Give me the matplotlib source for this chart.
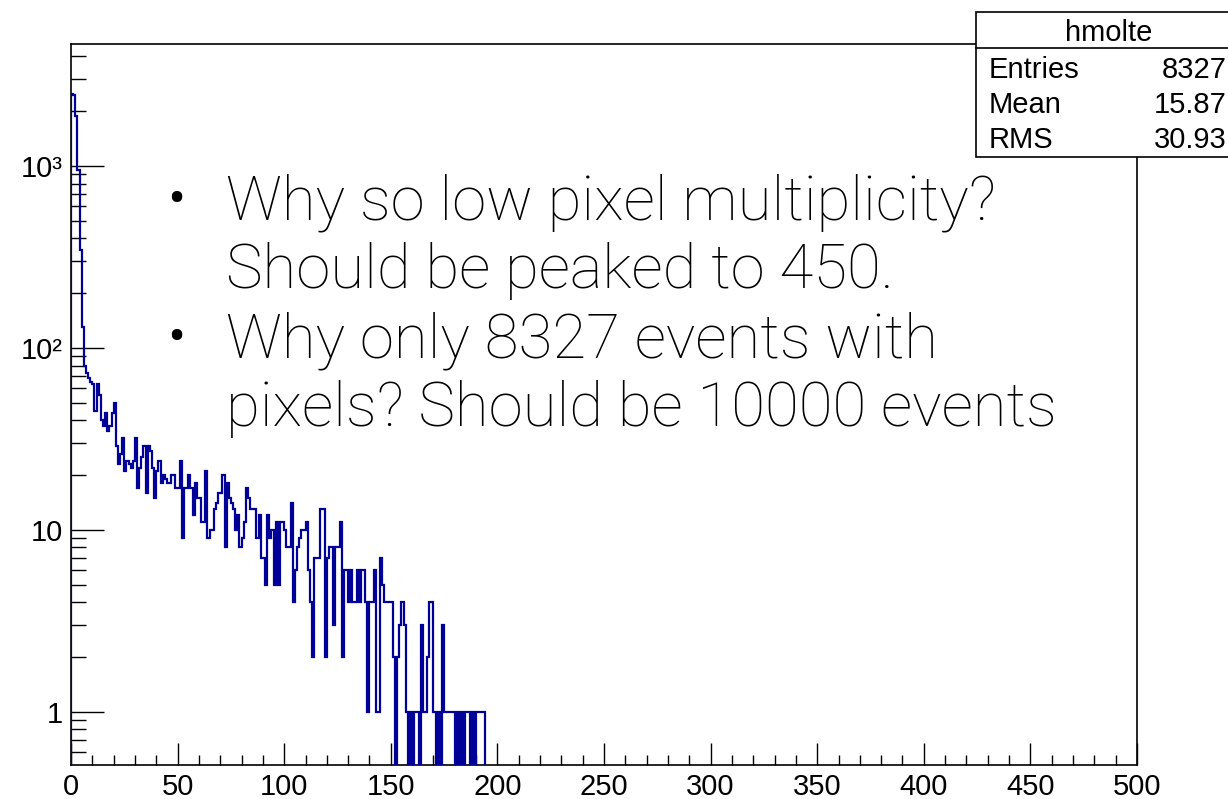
import numpy as np
import matplotlib
matplotlib.use("Agg")
import matplotlib.pyplot as plt
from matplotlib.patches import Rectangle
from matplotlib.lines import Line2D
from matplotlib.ticker import FixedLocator, FixedFormatter, MultipleLocator, NullFormatter

# ==============================================================
#  DATA  (hmolte: pixel multiplicity, 1-unit bins starting at 0)
# ==============================================================
counts = [
    2500, 2450, 1870, 950, 345, 131, 80, 73, 68, 65,
    63, 45, 63, 55, 40, 37, 44, 35, 37, 44,
    50, 29, 23, 26, 32, 21, 24, 23, 22, 24,
    32, 17, 22, 25, 29, 16, 29, 27, 22, 15,
    21, 24, 18, 20, 19, 18, 18, 20, 20, 17,
    17, 24, 9, 17, 17, 20, 17, 12, 18, 15,
    15, 11, 11, 21, 9, 10, 10, 13, 14, 16,
    16, 20, 8, 18, 15, 14, 13, 10, 12, 8,
    9, 11, 17, 15, 13, 13, 13, 9, 12, 7,
    7, 5, 12, 9, 10, 5, 11, 5, 11, 11,
    10, 8, 8, 14, 4, 6, 8, 9, 10, 10,
    11, 6, 4, 2, 7, 7, 7, 13, 13, 2,
    7, 8, 8, 3, 8, 8, 11, 2, 6, 6,
    4, 6, 4, 4, 6, 4, 6, 6, 4, 1,
    4, 4, 6, 1, 1, 7, 5, 4, 4, 4,
    4, 2, 0, 2, 3, 4, 3, 1, 0, 1,
    0, 1, 1, 0, 3, 1, 1, 2, 4, 4,
    1, 0, 1, 0, 3, 1, 1, 1, 1, 1,
    0, 1, 0, 1, 0, 1, 1, 0, 1, 0,
    1, 1, 1, 1,
]
edges = np.arange(len(counts) + 1)

y_major = [1, 10, 100, 1000]
y_labels = ["1", "10", "10\u00b2", "10\u00b3"]

stats_title = "hmolte"
stats_rows = [("Entries", "8327"), ("Mean", "15.87"), ("RMS", "30.93")]

bullets = [
    ("\u2022", "Why so low pixel multiplicity?"),
    ("", "Should be peaked to 450."),
    ("\u2022", "Why only 8327 events with"),
    ("", "pixels? Should be 10000 events"),
]

# ==============================================================
#  LAYOUT
# ==============================================================
W, H = 1228, 799
def fx(x): return x / W
def fy(y): return 1 - y / H

LINE = "#000099"
FONT_REG = ["Liberation Sans", "DejaVu Sans"]
FONT_SLIDE = ["Roboto", "DejaVu Sans"]

fig = plt.figure(figsize=(W / 100, H / 100), dpi=100, facecolor="white")
ax = fig.add_axes([fx(71), fy(765), fx(1137) - fx(71), fy(44) - fy(765)])

vals = np.array(counts, dtype=float)
vals = np.where(vals > 0, vals, 1e-3)   # empty bins drop to the bottom
ax.stairs(vals, edges, baseline=1e-3, color=LINE, linewidth=1.6, zorder=3)

ax.set_yscale("log")
ax.set_xlim(0, 500)
ax.set_ylim(0.51, 4680)

ax.xaxis.set_major_locator(MultipleLocator(50))
ax.xaxis.set_minor_locator(MultipleLocator(10))
ax.yaxis.set_major_locator(FixedLocator(y_major))
ax.yaxis.set_major_formatter(FixedFormatter(y_labels))
minors = [m * 10.0 ** d for d in range(-1, 4) for m in range(2, 10)]
ax.yaxis.set_minor_locator(FixedLocator(minors))
ax.yaxis.set_minor_formatter(NullFormatter())

ax.tick_params(axis="x", which="major", direction="in", length=16, width=1, pad=6)
ax.tick_params(axis="x", which="minor", direction="in", length=7.5, width=1)
ax.tick_params(axis="y", which="major", direction="in", length=24, width=1, pad=6)
ax.tick_params(axis="y", which="minor", direction="in", length=11, width=1)
for lab in ax.get_xticklabels() + ax.get_yticklabels():
    lab.set_family(FONT_REG)
    lab.set_fontsize(21)

for spine in ax.spines.values():
    spine.set_linewidth(1.2)
    spine.set_color("black")

# ==============================================================
#  STATS BOX
# ==============================================================
box = Rectangle((fx(976), fy(157)), fx(1250) - fx(976), fy(12) - fy(157),
                transform=fig.transFigure, facecolor="white",
                edgecolor="black", linewidth=1.2, zorder=10)
fig.add_artist(box)
fig.add_artist(Line2D([fx(976), fx(1250)], [fy(48), fy(48)],
                      transform=fig.transFigure, color="black",
                      linewidth=1.2, zorder=11))
fig.text(fx(1109), fy(41), stats_title, ha="center", va="baseline",
         fontsize=21, family=FONT_REG, zorder=12)
for i, (name, value) in enumerate(stats_rows):
    yb = 78 + i * 35
    fig.text(fx(989), fy(yb), name, ha="left", va="baseline",
             fontsize=21, family=FONT_REG, zorder=12)
    fig.text(fx(1227), fy(yb), value, ha="right", va="baseline",
             fontsize=21, family=FONT_REG, zorder=12)

# ==============================================================
#  SLIDE TEXT
# ==============================================================
for i, (mark, line) in enumerate(bullets):
    yb = 219 + i * 69
    if mark:
        fig.text(fx(166), fy(yb), mark, ha="left", va="baseline",
                 fontsize=46, family=FONT_SLIDE, fontweight="light", zorder=12)
    fig.text(fx(226), fy(yb), line, ha="left", va="baseline",
             fontsize=44.5, family=FONT_SLIDE, fontweight="light", zorder=12)

fig.savefig("out.png", dpi=100, facecolor="white")
